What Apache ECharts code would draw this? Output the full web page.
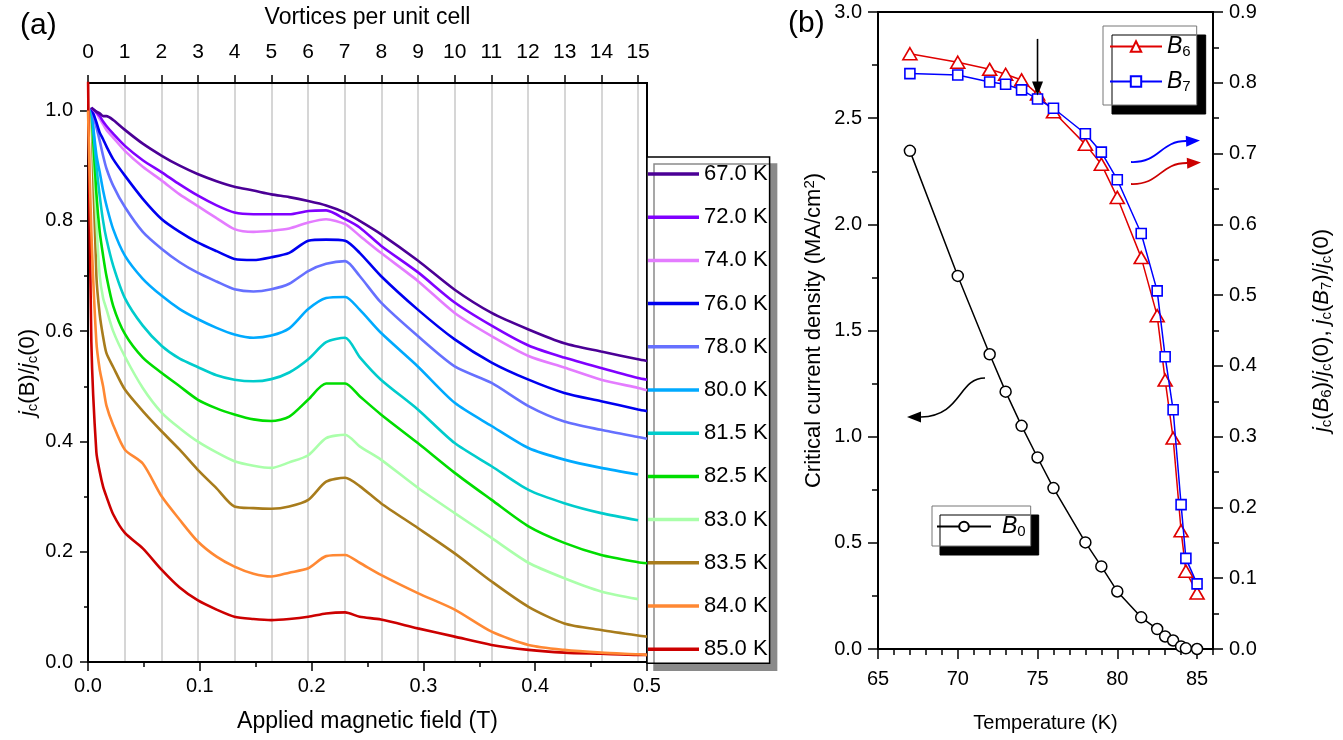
<!DOCTYPE html>
<html><head><meta charset="utf-8">
<script src="https://cdn.jsdelivr.net/npm/echarts@6/dist/echarts.min.js"></script>
<style>html,body{margin:0;padding:0;background:#fff}#c{width:1343px;height:740px}</style>
</head><body><div id="c"></div>
<script>
// ---------- Panel (a) data ----------
const fieldT = [0, 0.003, 0.0075, 0.0105, 0.0135, 0.0165, 0.0225, 0.033, 0.049, 0.066, 0.082, 0.098, 0.115, 0.131, 0.148, 0.164, 0.180, 0.197, 0.213, 0.230, 0.243, 0.262, 0.295, 0.328, 0.361, 0.394, 0.426, 0.459, 0.492, 0.500];
const curveLabels = ['67.0 K','72.0 K','74.0 K','76.0 K','78.0 K','80.0 K','81.5 K','82.5 K','83.0 K','83.5 K','84.0 K','85.0 K'];
const jc67  = [null, 1.005, 0.998, 0.995, 0.990, 0.990, 0.983, 0.965, 0.940, 0.918, 0.900, 0.885, 0.872, 0.862, 0.855, 0.848, 0.843, 0.836, 0.828, 0.815, 0.800, 0.776, 0.728, 0.675, 0.633, 0.603, 0.578, 0.563, 0.549, 0.546];
const jc72  = [null, 1.005, 0.997, 0.990, 0.980, 0.972, 0.958, 0.936, 0.910, 0.888, 0.866, 0.846, 0.828, 0.815, 0.812, 0.812, 0.812, 0.818, 0.819, 0.803, 0.788, 0.755, 0.707, 0.652, 0.610, 0.574, 0.552, 0.533, 0.515, 0.512];
const jc74  = [null, 1.005, 0.995, 0.985, 0.975, 0.965, 0.951, 0.927, 0.898, 0.873, 0.848, 0.827, 0.805, 0.785, 0.780, 0.782, 0.786, 0.797, 0.803, 0.794, 0.773, 0.742, 0.691, 0.633, 0.591, 0.555, 0.534, 0.512, 0.497, 0.493];
const jc76  = [null, 1.005, 0.979, 0.960, 0.948, 0.935, 0.912, 0.882, 0.840, 0.803, 0.780, 0.761, 0.745, 0.731, 0.729, 0.734, 0.742, 0.764, 0.766, 0.764, 0.742, 0.700, 0.639, 0.585, 0.543, 0.512, 0.488, 0.473, 0.458, 0.455];
const jc78  = [null, 1.005, 0.970, 0.945, 0.918, 0.895, 0.864, 0.825, 0.780, 0.749, 0.725, 0.706, 0.690, 0.676, 0.672, 0.676, 0.686, 0.709, 0.722, 0.727, 0.700, 0.652, 0.591, 0.536, 0.506, 0.464, 0.436, 0.421, 0.408, 0.405];
const jc80  = [null, 1.005, 0.920, 0.888, 0.855, 0.828, 0.785, 0.737, 0.695, 0.664, 0.640, 0.622, 0.606, 0.594, 0.588, 0.592, 0.605, 0.640, 0.660, 0.662, 0.639, 0.597, 0.536, 0.470, 0.428, 0.388, 0.367, 0.352, 0.340, null];
const jc815 = [null, 1.005, 0.900, 0.845, 0.800, 0.767, 0.719, 0.660, 0.610, 0.573, 0.550, 0.535, 0.520, 0.512, 0.509, 0.513, 0.525, 0.549, 0.580, 0.588, 0.553, 0.512, 0.458, 0.397, 0.355, 0.312, 0.288, 0.270, 0.257, null];
const jc825 = [null, 1.005, 0.850, 0.780, 0.737, 0.700, 0.646, 0.595, 0.552, 0.524, 0.500, 0.476, 0.460, 0.449, 0.440, 0.437, 0.445, 0.476, 0.505, 0.505, 0.482, 0.449, 0.397, 0.343, 0.294, 0.246, 0.216, 0.194, 0.181, 0.179];
const jc830 = [null, 1.005, 0.800, 0.700, 0.660, 0.640, 0.600, 0.554, 0.497, 0.452, 0.424, 0.400, 0.380, 0.364, 0.356, 0.352, 0.362, 0.375, 0.406, 0.412, 0.391, 0.367, 0.316, 0.270, 0.225, 0.180, 0.152, 0.128, 0.114, null];
const jc835 = [null, 1.005, 0.700, 0.630, 0.590, 0.560, 0.535, 0.494, 0.455, 0.418, 0.385, 0.349, 0.315, 0.282, 0.279, 0.278, 0.282, 0.294, 0.327, 0.334, 0.319, 0.288, 0.243, 0.197, 0.146, 0.100, 0.070, 0.058, 0.048, 0.046];
const jc840 = [1.000, 0.780, 0.580, 0.530, 0.500, 0.465, 0.430, 0.385, 0.360, 0.300, 0.258, 0.219, 0.191, 0.173, 0.160, 0.155, 0.162, 0.170, 0.192, 0.194, 0.180, 0.158, 0.125, 0.095, 0.055, 0.031, 0.022, 0.017, 0.014, 0.013];
const jc850 = [1.070, 0.580, 0.380, 0.345, 0.318, 0.300, 0.268, 0.234, 0.206, 0.167, 0.135, 0.112, 0.095, 0.082, 0.078, 0.076, 0.078, 0.082, 0.088, 0.090, 0.082, 0.077, 0.061, 0.046, 0.031, 0.022, 0.017, 0.015, 0.013, 0.013];
const curveColors = ['#4b0096','#8000ff','#e47cff','#0000f0','#6670ff','#00aaff','#00cccc','#00dd00','#aaffaa','#a87c1c','#ff8833','#cc0000'];
const curves = [jc67, jc72, jc74, jc76, jc78, jc80, jc815, jc825, jc830, jc835, jc840, jc850];

// axis tick lists (panel a)
const normTicks = [0, 0.2, 0.4, 0.6, 0.8, 1.0];
const normMinor = [0.1, 0.3, 0.5, 0.7, 0.9];
const vortexTicks = [0,1,2,3,4,5,6,7,8,9,10,11,12,13,14,15];
const fieldPerVortex = 0.0328; // T per vortex per unit cell

// ---------- Panel (b) data ----------
const tempK = [67, 70, 72, 73, 74, 75, 76, 78, 79, 80, 81.5, 82.5, 83, 83.5, 84, 84.3, 85];
const jcB0  = [2.346, 1.757, 1.388, 1.212, 1.051, 0.902, 0.758, 0.502, 0.389, 0.271, 0.149, 0.094, 0.059, 0.040, 0.012, 0.003, 0.0];
const ratioB6 = [0.841, 0.829, 0.819, 0.812, 0.804, 0.784, 0.759, 0.713, 0.685, 0.638, 0.553, 0.471, 0.380, 0.298, 0.167, 0.110, 0.079];
const ratioB7 = [0.813, 0.811, 0.801, 0.798, 0.790, 0.777, 0.764, 0.728, 0.702, 0.663, 0.587, 0.506, 0.413, 0.338, 0.204, 0.128, 0.092];
const tempMajor = [65, 70, 75, 80, 85];
const tempMinor = [66,67,68,69,71,72,73,74,76,77,78,79,81,82,83,84,86];

const FONT = "'Liberation Sans', Arial, sans-serif";
const K = '#000';
const tickLine = {color: K, width: 1.5};

const seriesA = curves.map((vals, k) => ({
  name: curveLabels[k], type: 'line', xAxisIndex: 0, yAxisIndex: 0,
  data: fieldT.map((x, i) => [x, vals[i]]).filter(p => p[1] !== null),
  symbol: 'none', smooth: 0.25, clip: true,
  lineStyle: {color: curveColors[k], width: 2.6}, itemStyle: {color: curveColors[k]},
  z: 20 - k
}));

const chart = echarts.init(document.getElementById('c'), null, {renderer: 'canvas'});
const option = {
  animation: false,
  backgroundColor: '#fff',
  textStyle: {fontFamily: FONT, color: K},
  grid: [
    {left: 88, top: 83, width: 559, height: 579, show: true, borderColor: K, borderWidth: 2},
    {left: 878, top: 12, width: 335, height: 637, show: true, borderColor: K, borderWidth: 2}
  ],
  xAxis: [
    {gridIndex: 0, type: 'value', min: 0, max: 0.5, interval: 0.1, position: 'bottom',
     axisLine: {show: true, onZero: false, lineStyle: {color: K, width: 2}},
     axisTick: {length: 9, lineStyle: tickLine},
     minorTick: {show: true, splitNumber: 2, length: 5, lineStyle: tickLine},
     axisLabel: {fontSize: 20, color: K, margin: 14, formatter: v => v.toFixed(1)},
     splitLine: {show: false},
     name: 'Applied magnetic field (T)', nameLocation: 'middle', nameGap: 48,
     nameTextStyle: {fontSize: 23, color: K}},
    {gridIndex: 0, type: 'value', min: 0, max: 0.5 / fieldPerVortex, interval: 1, position: 'top',
     axisLine: {show: true, onZero: false, lineStyle: {color: K, width: 2}},
     axisTick: {length: 8, lineStyle: tickLine, customValues: vortexTicks},
     axisLabel: {fontSize: 21, color: K, margin: 20, customValues: vortexTicks},
     splitLine: {show: true, lineStyle: {color: '#c8c8c8', width: 1.5}},
     name: 'Vortices per unit cell', nameLocation: 'middle', nameGap: 54,
     nameTextStyle: {fontSize: 23, color: K}},
    {gridIndex: 1, type: 'value', min: 65, max: 86, interval: 5, position: 'bottom',
     axisLine: {show: true, onZero: false, lineStyle: {color: K, width: 2}},
     axisTick: {length: 10, lineStyle: tickLine, customValues: tempMajor},
     axisLabel: {fontSize: 20, color: K, margin: 20, customValues: tempMajor},
     splitLine: {show: false},
     name: 'Temperature (K)', nameLocation: 'middle', nameGap: 64,
     nameTextStyle: {fontSize: 20, color: K}},
    {gridIndex: 1, type: 'value', min: 65, max: 86, position: 'bottom',
     axisLine: {show: false}, axisTick: {length: 6, lineStyle: tickLine, customValues: tempMinor},
     axisLabel: {show: false}, splitLine: {show: false}}
  ],
  yAxis: [
    {gridIndex: 0, type: 'value', min: 0, max: 1.05, interval: 0.2, position: 'left',
     axisLine: {show: true, onZero: false, lineStyle: {color: K, width: 2}},
     axisTick: {length: 8, lineStyle: tickLine, customValues: normTicks},
     axisLabel: {fontSize: 20, color: K, margin: 15, customValues: normTicks, formatter: v => v.toFixed(1)},
     splitLine: {show: false},
     name: '{i|j}{s|c}{n|(B)/}{i|j}{s|c}{n|(0)}', nameLocation: 'middle', nameGap: 48, nameRotate: 90,
     nameTextStyle: {fontSize: 22, color: K, rich: {
       i: {fontStyle: 'italic', fontSize: 22, fontFamily: FONT, color: K},
       n: {fontSize: 22, fontFamily: FONT, color: K},
       s: {fontSize: 15, fontFamily: FONT, color: K, padding: [10, 0, 0, 0]}}}},
    {gridIndex: 0, type: 'value', min: 0, max: 1.05, position: 'left',
     axisLine: {show: false}, axisTick: {length: 4, lineStyle: tickLine, customValues: normMinor},
     axisLabel: {show: false}, splitLine: {show: false}},
    {gridIndex: 1, type: 'value', min: 0, max: 3, interval: 0.5, position: 'left',
     axisLine: {show: true, onZero: false, lineStyle: {color: K, width: 2}},
     axisTick: {length: 10, lineStyle: tickLine},
     minorTick: {show: true, splitNumber: 2, length: 6, lineStyle: tickLine},
     axisLabel: {fontSize: 20, color: K, margin: 16, formatter: v => v.toFixed(1)},
     splitLine: {show: false},
     name: '{n|Critical current density (MA/cm}{sup|2}{n|)}', nameLocation: 'middle', nameGap: 52, nameRotate: 90,
     nameTextStyle: {fontSize: 22, color: K, rich: {n: {fontSize: 22, fontFamily: FONT, color: K}, sup: {fontSize: 15, fontFamily: FONT, color: K, padding: [0, 0, 9, 0]}}}},
    {gridIndex: 1, type: 'value', min: 0, max: 0.9, interval: 0.1, position: 'right',
     axisLine: {show: true, onZero: false, lineStyle: {color: K, width: 2}},
     axisTick: {length: 10, lineStyle: tickLine},
     minorTick: {show: true, splitNumber: 2, length: 6, lineStyle: tickLine},
     axisLabel: {fontSize: 20, color: K, margin: 16, formatter: v => v.toFixed(1)},
     splitLine: {show: false},
     name: '{i|j}{s|c}{n|(}{i|B}{s|6}{n|)/}{i|j}{s|c}{n|(0), }{i|j}{s|c}{n|(}{i|B}{s|7}{n|)/}{i|j}{s|c}{n|(0)}',
     nameLocation: 'middle', nameGap: 96, nameRotate: 90,
     nameTextStyle: {fontSize: 22, color: K, rich: {
       i: {fontStyle: 'italic', fontSize: 22, fontFamily: FONT, color: K},
       n: {fontSize: 22, fontFamily: FONT, color: K},
       s: {fontSize: 15, fontFamily: FONT, color: K, padding: [10, 0, 0, 0]}}}}
  ],
  legend: [
    {data: curveLabels, orient: 'vertical', left: 647, top: 157, icon: 'rect', itemWidth: 51, itemHeight: 3.5, itemGap: 21.2,
     padding: [6, 2, 3, 1], backgroundColor: '#fff', borderColor: K, borderWidth: 1.5,
     shadowColor: '#8a8a8a', shadowBlur: 0, shadowOffsetX: 7, shadowOffsetY: 7,
     textStyle: {fontSize: 22, color: K, lineHeight: 22}, selectedMode: false},
    {data: ['B6', 'B7'], orient: 'vertical', left: 1103, top: 26, itemWidth: 52, itemHeight: 13, itemGap: 11,
     padding: [9, 6, 11, 6], backgroundColor: '#fff', borderColor: '#777', borderWidth: 1,
     shadowColor: K, shadowBlur: 0, shadowOffsetX: 9, shadowOffsetY: 9,
     formatter: n => '{i|B}{s|' + n.slice(1) + '}',
     textStyle: {color: K, rich: {i: {fontStyle: 'italic', fontSize: 23, fontFamily: FONT, color: K}, s: {fontSize: 15, fontFamily: FONT, color: K, padding: [10, 0, 0, 0]}}},
     selectedMode: false},
    {data: ['B0'], orient: 'vertical', left: 932, top: 506, itemWidth: 54, itemHeight: 12,
     padding: [9, 5, 7, 4], backgroundColor: '#fff', borderColor: '#777', borderWidth: 1,
     shadowColor: K, shadowBlur: 0, shadowOffsetX: 8, shadowOffsetY: 9,
     formatter: n => '{g| }{i|B}{s|' + n.slice(1) + '}',
     textStyle: {color: K, rich: {g: {fontSize: 10, width: 6}, i: {fontStyle: 'italic', fontSize: 23, fontFamily: FONT, color: K}, s: {fontSize: 15, fontFamily: FONT, color: K, padding: [10, 0, 0, 0]}}},
     selectedMode: false}
  ],
  series: seriesA.concat([
    {name: 'B0', type: 'line', xAxisIndex: 2, yAxisIndex: 2,
     data: tempK.map((t, i) => [t, jcB0[i]]),
     symbol: 'circle', symbolSize: 11, showSymbol: true,
     lineStyle: {color: K, width: 1.5}, itemStyle: {color: '#fff', borderColor: K, borderWidth: 1.5}, z: 5},
    {name: 'B6', type: 'line', xAxisIndex: 2, yAxisIndex: 3,
     data: tempK.map((t, i) => [t, ratioB6[i]]),
     symbol: 'triangle', symbolSize: [14, 12], showSymbol: true,
     lineStyle: {color: '#e00000', width: 1.5}, itemStyle: {color: '#fff', borderColor: '#e00000', borderWidth: 1.6}, z: 5},
    {name: 'B7', type: 'line', xAxisIndex: 2, yAxisIndex: 3,
     data: tempK.map((t, i) => [t, ratioB7[i]]),
     symbol: 'rect', symbolSize: 10, showSymbol: true,
     lineStyle: {color: '#0000ff', width: 1.5}, itemStyle: {color: '#fff', borderColor: '#0000ff', borderWidth: 1.6}, z: 6}
  ])
};
chart.setOption(option);

// annotations
const p = (t, v) => chart.convertToPixel({xAxisIndex: 2, yAxisIndex: 3}, [t, v]);
const a1 = p(75, 0.862), a2 = p(75, 0.782);
function head(tx, ty, dx, dy, color) {
  const L = 14, W = 5.5, len = Math.hypot(dx, dy), ux = dx / len, uy = dy / len;
  const bx = tx - ux * L, by = ty - uy * L;
  return {type: 'polygon', z: 50, shape: {points: [[tx, ty], [bx - uy * W, by + ux * W], [bx + uy * W, by - ux * W]]}, style: {fill: color}};
}
chart.setOption({graphic: [
  {type: 'text', left: 20, top: 11, style: {text: '(a)', fontSize: 30, fontFamily: FONT, fill: K}},
  {type: 'text', left: 788, top: 9, style: {text: '(b)', fontSize: 30, fontFamily: FONT, fill: K}},
  {type: 'line', z: 50, shape: {x1: a1[0], y1: a1[1], x2: a2[0], y2: a2[1] - 10}, style: {stroke: K, lineWidth: 1.6}},
  head(a2[0], a2[1], 0, 1, K),
  {type: 'bezierCurve', z: 50, shape: {x1: 1131, y1: 162, cpx1: 1160, cpy1: 163, cpx2: 1160, cpy2: 141, x2: 1186, y2: 141}, style: {stroke: '#0000ff', lineWidth: 1.8, fill: null}},
  head(1200, 140.5, 1, -0.05, '#0000ff'),
  {type: 'bezierCurve', z: 50, shape: {x1: 1131, y1: 184, cpx1: 1160, cpy1: 185, cpx2: 1160, cpy2: 163, x2: 1187, y2: 163}, style: {stroke: '#cc0000', lineWidth: 1.8, fill: null}},
  head(1201, 162.5, 1, -0.05, '#cc0000'),
  {type: 'bezierCurve', z: 50, shape: {x1: 985, y1: 378, cpx1: 958, cpy1: 378, cpx2: 962, cpy2: 416, x2: 921, y2: 417}, style: {stroke: K, lineWidth: 1.6, fill: null}},
  head(907, 417, -1, 0, K)
]});
</script>
</body></html>
